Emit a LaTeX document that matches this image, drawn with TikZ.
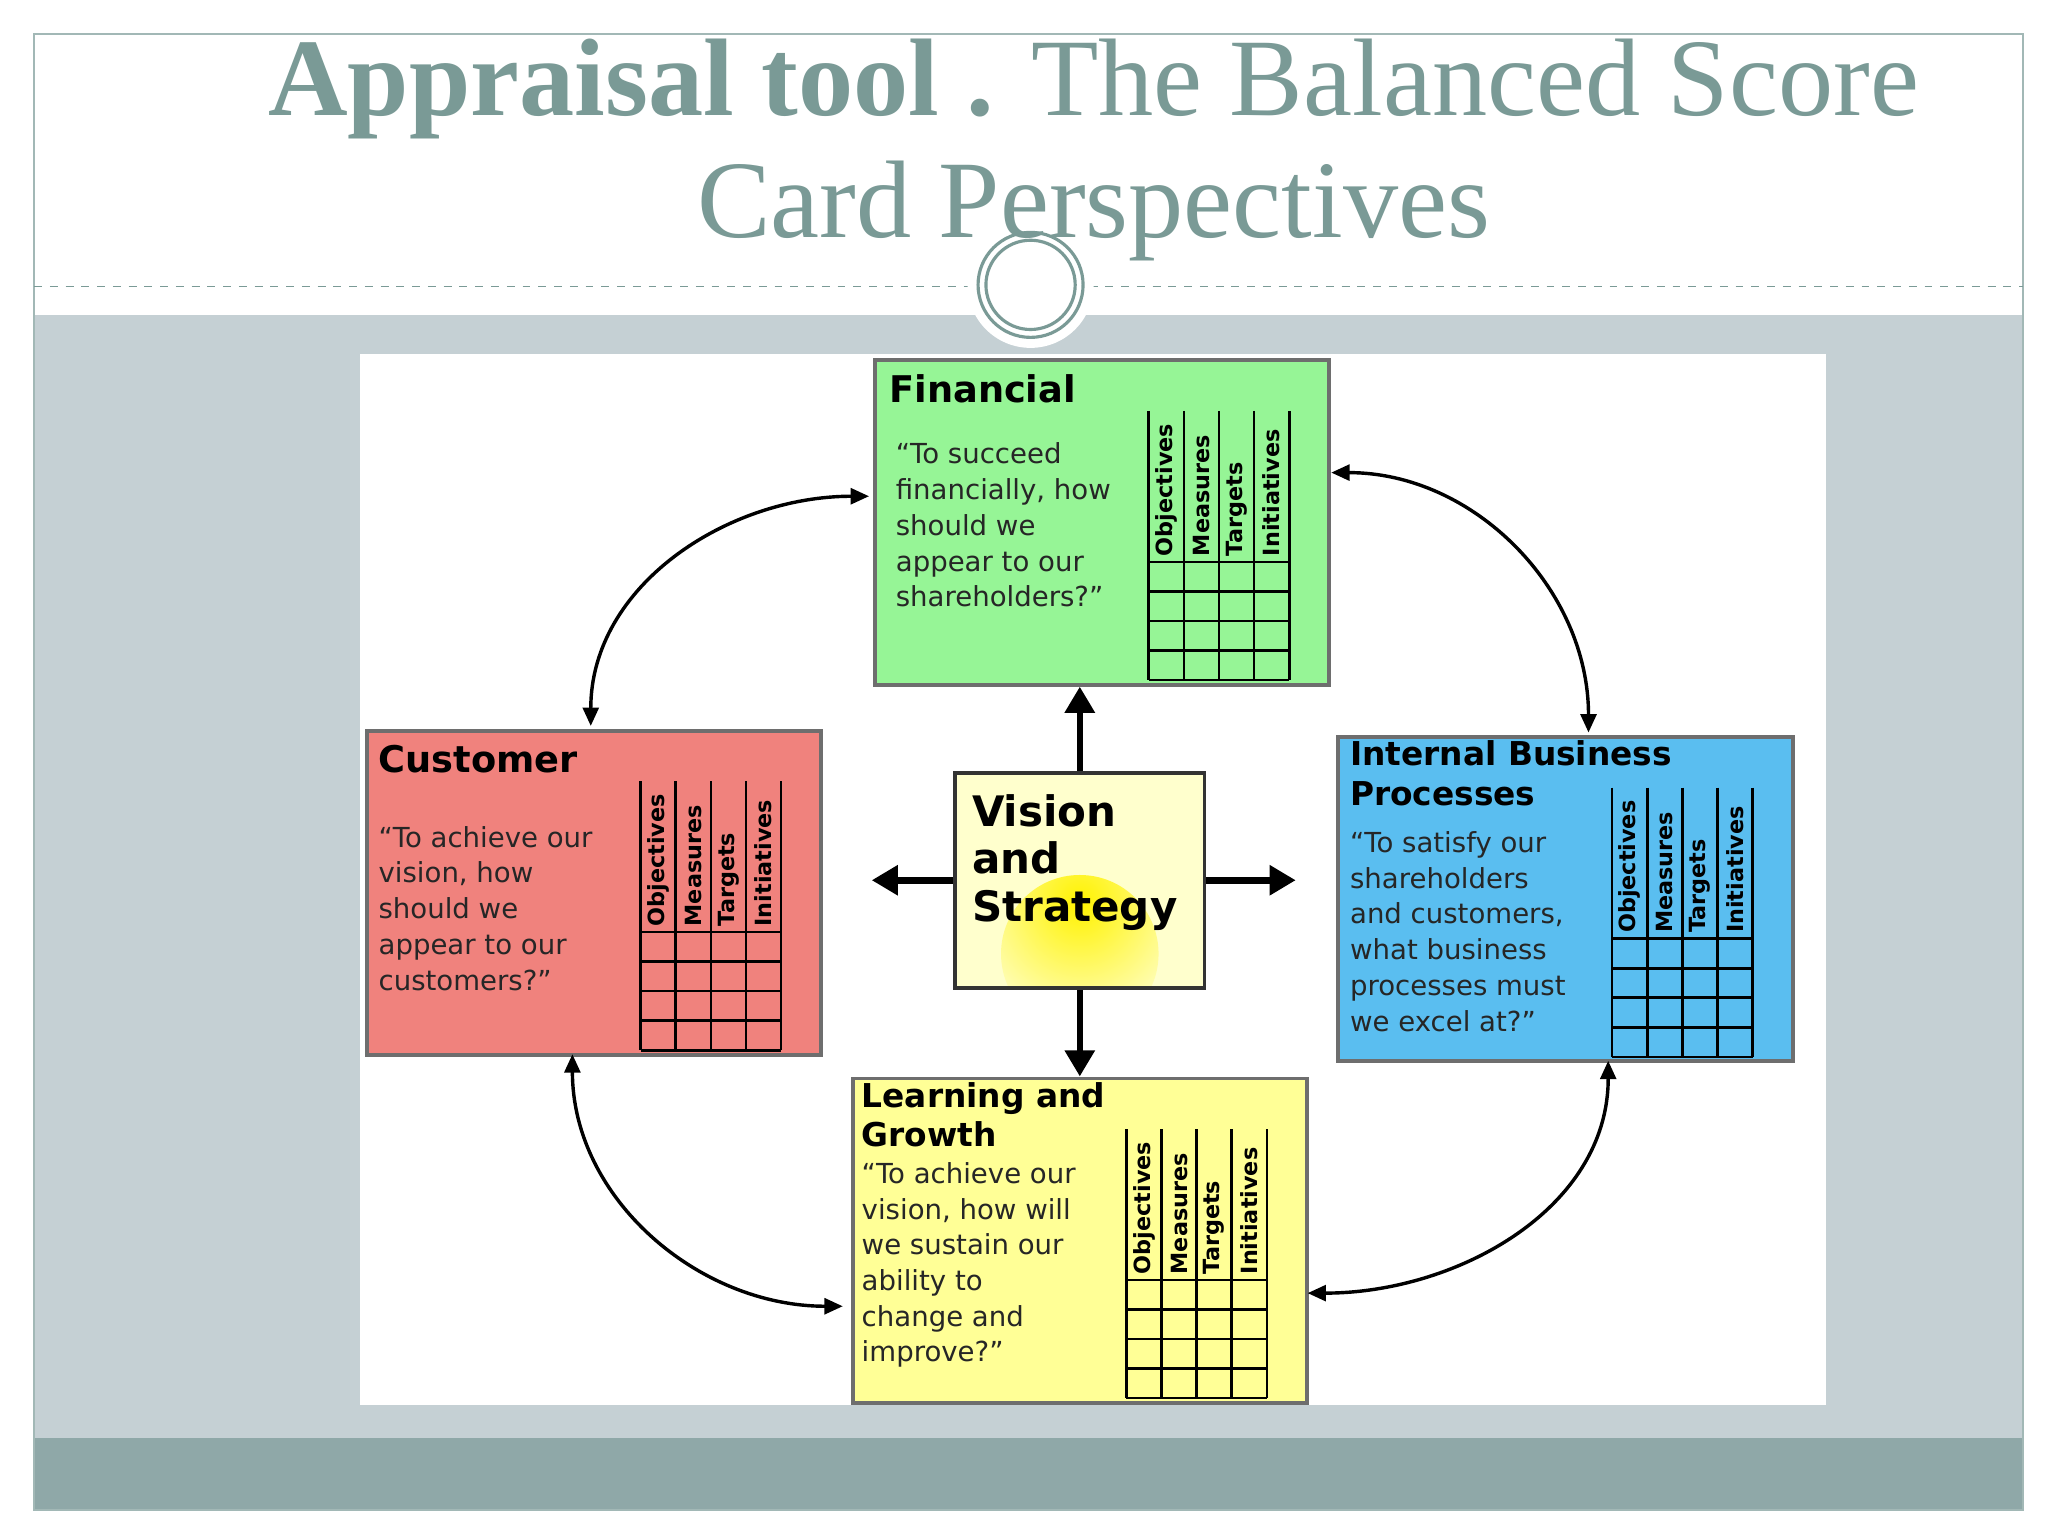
\documentclass[tikz,border=0pt]{standalone}
\usepackage{fontspec}
\setmainfont{Liberation Serif}
\newfontfamily\cardfont{DejaVu Sans}
\usetikzlibrary{arrows.meta}
\definecolor{titlec}{RGB}{122,154,150}
\definecolor{bgc}{RGB}{197,208,212}
\definecolor{bandc}{RGB}{143,168,168}
\definecolor{finc}{RGB}{150,245,150}
\definecolor{cusc}{RGB}{240,130,125}
\definecolor{intc}{RGB}{90,190,240}
\definecolor{lrnc}{RGB}{255,255,150}
\definecolor{visc}{RGB}{255,255,205}
\definecolor{edgec}{RGB}{110,110,110}
\tikzset{
 cardbox/.style={draw=edgec, line width=1.5pt, minimum width=173pt, minimum height=123.5pt, anchor=north west, inner sep=0pt},
 cardtitle/.style={anchor=north west, font=\cardfont\bfseries\fontsize{14}{15}\selectfont, align=left, inner sep=0pt},
 cardtext/.style={anchor=north west, font=\cardfont\fontsize{10.5}{13.6}\selectfont, align=left, inner sep=0pt, text=black!85},
 collabel/.style={rotate=90, anchor=west, font=\cardfont\bfseries\fontsize{8.5}{9}\selectfont, inner sep=0pt},
 bigarrow/.style={line width=2.5pt, -{Triangle[length=10pt,width=11pt]}},
 cyc/.style={line width=1.3pt, {Triangle[length=7pt,width=6pt]}-{Triangle[length=7pt,width=6pt]}}
}
\newcommand\cardgrid[2]{%
 \begin{scope}[shift={(#1,#2)}]
  \foreach \i in {0,...,4} \draw[line width=1pt] (210+26.75*\i,40) -- (210+26.75*\i,245);
  \foreach \j in {0,...,4} \draw[line width=1pt] (210,155+22.5*\j) -- (317,155+22.5*\j);
  \foreach \t [count=\k] in {Objectives,Measures,Targets,Initiatives}
   \node[collabel] at (210+26.75*\k-13.4,151) {\t};
 \end{scope}}
\begin{document}
\begin{tikzpicture}[x=0.5pt,y=-0.5pt]
\useasboundingbox (0,0) rectangle (1560,1170);
\fill[white] (0,0) rectangle (1560,1170);
\fill[bgc] (26,240) rectangle (1541,1095);
\fill[bandc] (26,1095) rectangle (1541,1150);
\draw[titlec!70, line width=0.8pt] (26,26) rectangle (1541,1150);
\draw[titlec, dashed, line width=0.5pt] (26,218) -- (1541,218);
\fill[white] (785,217) circle (48);
\draw[titlec, line width=1.2pt] (785,217) circle (40);
\draw[titlec, line width=1.2pt] (785,217) circle (34);
\node[anchor=base, text=titlec, font=\fontsize{42}{46}\selectfont] (t1) at (833,88) {\textbf{Appraisal tool .} The Balanced Score};
\node[anchor=base, text=titlec, font=\fontsize{42}{46}\selectfont] (t2) at (833,181) {Card Perspectives};
\fill[white] (274,270) rectangle (1391,1070);
% cards
\node[cardbox, fill=finc] (fin) at (665,273) {};
\node[cardtitle] at (677,285) {Financial};
\node[cardtext] at (682,337) {“To succeed\\financially, how\\should we\\appear to our\\shareholders?”};
\cardgrid{665}{273}
\node[cardbox, fill=cusc] (cus) at (278,555) {};
\node[cardtitle] at (288,567) {Customer};
\node[cardtext] at (288,629) {“To achieve our\\vision, how\\should we\\appear to our\\customers?”};
\cardgrid{278}{555}
\node[cardbox, fill=intc] (int) at (1018,560) {};
\node[cardtitle, font=\cardfont\bfseries\fontsize{12.5}{15}\selectfont] at (1028,564) {Internal Business\\Processes};
\node[cardtext] at (1028,633) {“To satisfy our\\shareholders\\and customers,\\what business\\processes must\\we excel at?”};
\cardgrid{1018}{560}
\node[cardbox, fill=lrnc] (lrn) at (648,820) {};
\node[cardtitle, font=\cardfont\bfseries\fontsize{12.5}{15}\selectfont] at (656,824) {Learning and\\Growth};
\node[cardtext] at (656,885) {“To achieve our\\vision, how will\\we sustain our\\ability to\\change and\\improve?”};
\cardgrid{648}{820}
% vision
\node[draw=black!80, line width=1.5pt, minimum width=95pt, minimum height=82pt, anchor=north west, inner sep=0pt, fill=visc,
 path picture={\shade[inner color=yellow!90!orange, outer color=visc] ([yshift=-28pt]path picture bounding box.center) circle (30pt);}] (vis) at (726,587) {};
\node[cardtitle, font=\cardfont\bfseries\fontsize{16}{18}\selectfont] at (740,605) {Vision\\and\\Strategy};
\draw[bigarrow] (vis.north) -- (fin.south -| vis.north);
\draw[bigarrow] (vis.west) -- ++(-62,0);
\draw[bigarrow] (vis.east) -- ++(68,0);
\draw[bigarrow] (vis.south) -- (lrn.north -| vis.south);
% cycle arrows
\coordinate (a1) at (662,378); \coordinate (a2) at (450,553);
\coordinate (b1) at (1014,360); \coordinate (b2) at (1210,558);
\coordinate (c1) at (1225,808); \coordinate (c2) at (996,985);
\coordinate (d1) at (436,803); \coordinate (d2) at (642,995);
\draw[cyc] (a1) to[out=180,in=90] (a2);
\draw[cyc] (b1) to[out=0,in=90] (b2);
\draw[cyc] (c1) to[out=-90,in=0] (c2);
\draw[cyc] (d1) to[out=-90,in=180] (d2);
\end{tikzpicture}
\end{document}
